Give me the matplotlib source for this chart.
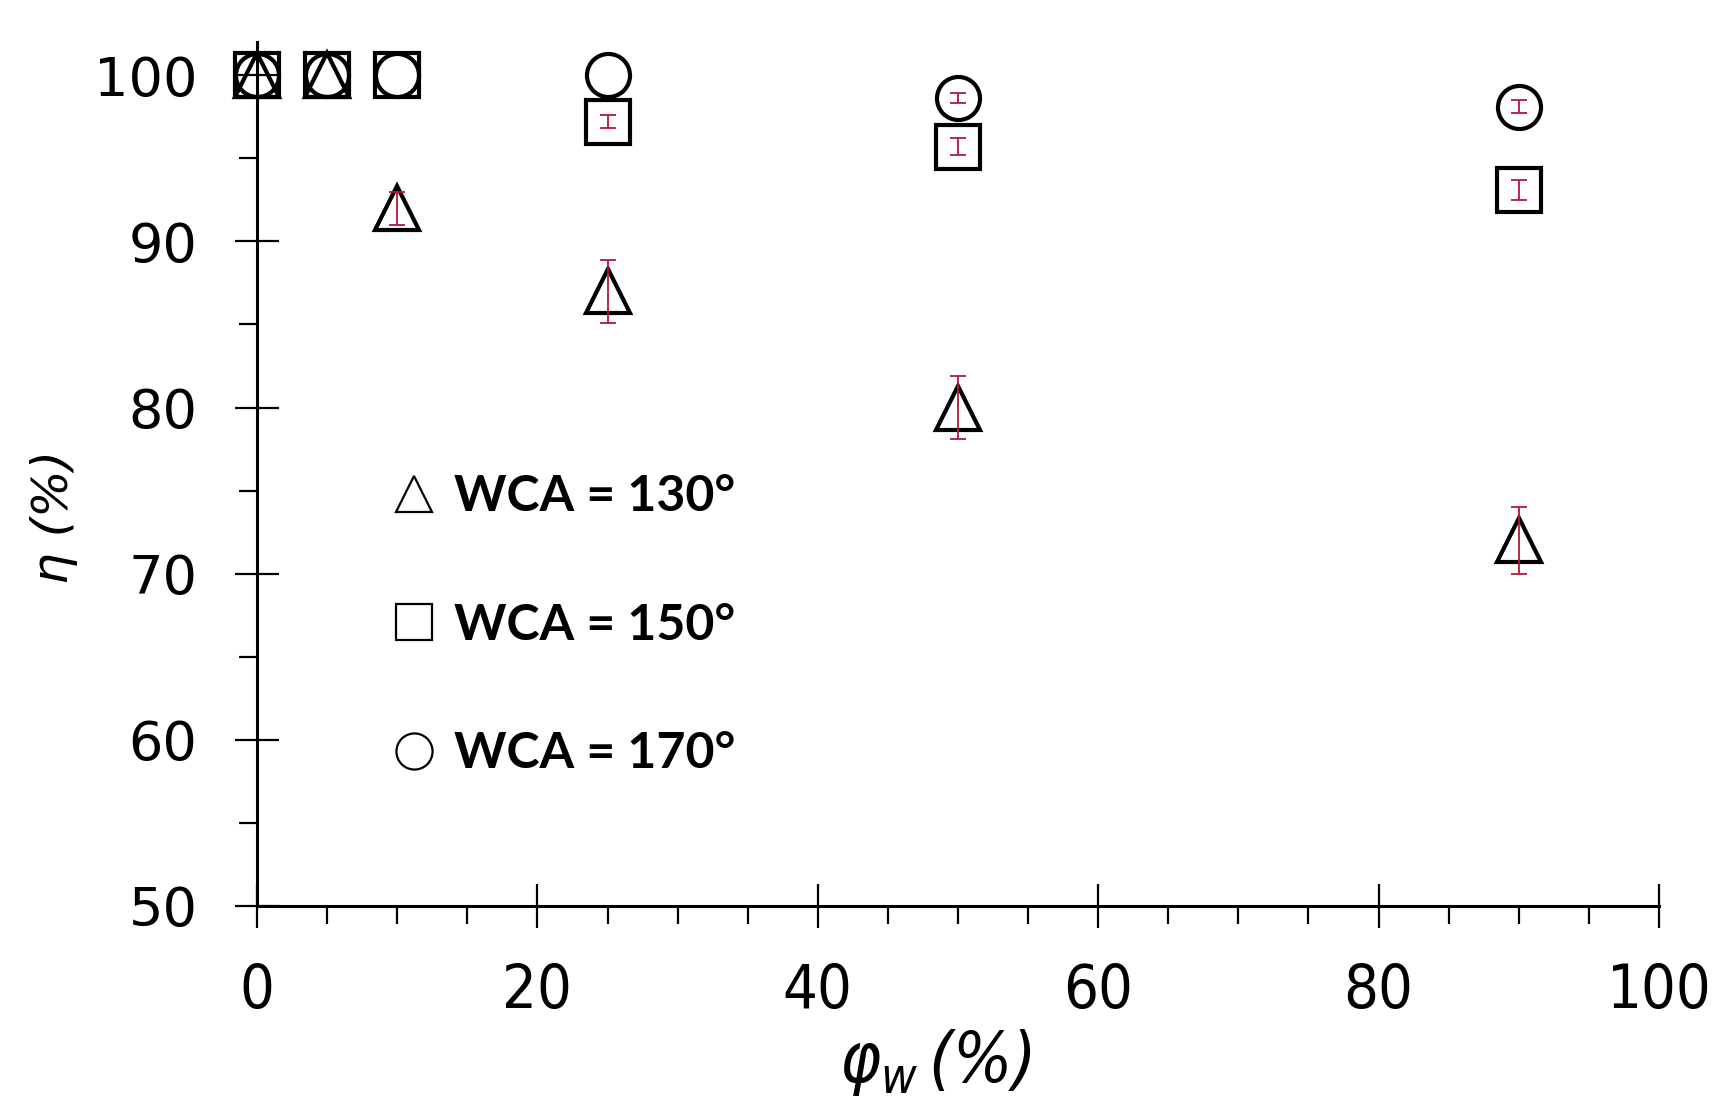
"""eta vs water fraction for three wetting angles, Excel-style scatter with red error bars."""
import matplotlib
matplotlib.use("Agg")
import matplotlib.pyplot as plt
from matplotlib.lines import Line2D
from matplotlib.ticker import MultipleLocator

plt.rcParams["mathtext.fontset"] = "custom"
plt.rcParams["mathtext.it"] = "DejaVu Sans:style=italic:stretch=condensed"
plt.rcParams["mathtext.rm"] = "DejaVu Sans:style=italic:stretch=condensed"

# water fraction (%)
phi_w = [0, 5, 10, 25, 50, 90]

# efficiency (%) and error per wetting angle
eta_130 = [100, 100, 92.0, 87.0, 80.0, 72.0]
err_130 = [0, 0, 1.0, 1.9, 1.9, 2.0]
eta_150 = [100, 100, 100, 97.2, 95.7, 93.1]
err_150 = [0, 0, 0, 0.4, 0.5, 0.6]
eta_170 = [100, 100, 100, 100, 98.6, 98.1]
err_170 = [0, 0, 0, 0, 0.3, 0.4]

labels = ["WCA = 130°", "WCA = 150°", "WCA = 170°"]
markers = ["^", "s", "o"]

RED = "#B5173A"

fig = plt.figure(figsize=(17.17, 11.13), dpi=100)
ax = fig.add_axes([0.1497, 0.186, 0.8165, 0.7763])

series = [(eta_130, err_130), (eta_150, err_150), (eta_170, err_170)]
for (y, e), m in zip(series, markers):
    ax.plot(phi_w, y, ls="none", marker=m, ms=31, mfc="none", mec="black",
            mew=3.0, clip_on=False, zorder=3)
for y, e in series:
    pts = [(x, v, d) for x, v, d in zip(phi_w, y, e) if d > 0]
    ax.errorbar([p[0] for p in pts], [p[1] for p in pts], yerr=[p[2] for p in pts],
                fmt="none", ecolor=RED, elinewidth=1.3, capsize=5.5, capthick=1.3,
                zorder=4)

ax.set_xlim(0, 100)
ax.set_ylim(50, 102)
ax.xaxis.set_major_locator(MultipleLocator(20))
ax.xaxis.set_minor_locator(MultipleLocator(5))
ax.yaxis.set_major_locator(MultipleLocator(10))
ax.yaxis.set_minor_locator(MultipleLocator(5))

for s in ("top", "right"):
    ax.spines[s].set_visible(False)
for s in ("left", "bottom"):
    ax.spines[s].set_linewidth(2.2)
ax.spines["left"].set_bounds(50, 102)

ax.tick_params(which="major", direction="inout", length=32, width=1.6)
ax.tick_params(which="minor", direction="out", length=13, width=1.6)
ax.tick_params(axis="y", which="major", pad=27)
ax.tick_params(axis="x", which="major", pad=24)

for t in ax.get_yticklabels():
    t.set_family("DejaVu Sans")
    t.set_fontsize(39)
for t in ax.get_xticklabels():
    t.set_family("DejaVu Sans")
    t.set_stretch("condensed")
    t.set_fontsize(44)

ax.set_xlabel(r"$\varphi_w\,(\%)$", fontsize=50)
ax.xaxis.set_label_coords(0.484, -0.14)
ax.set_ylabel("η (%)", fontsize=36, family="DejaVu Sans", style="italic")
ax.yaxis.set_label_coords(-0.128, 0.45)

handles = [Line2D([], [], ls="none", marker=m, ms=26, mfc="none", mec="black", mew=1.6)
           for m in markers]
leg = ax.legend(handles, labels, loc="center left", bbox_to_anchor=(0.062, 0.325),
                frameon=False, handletextpad=0.3, handlelength=1.0, labelspacing=1.67,
                prop={"family": ["Lato", "DejaVu Sans"], "weight": "bold", "size": 36})

fig.savefig("out.png", dpi=100)
